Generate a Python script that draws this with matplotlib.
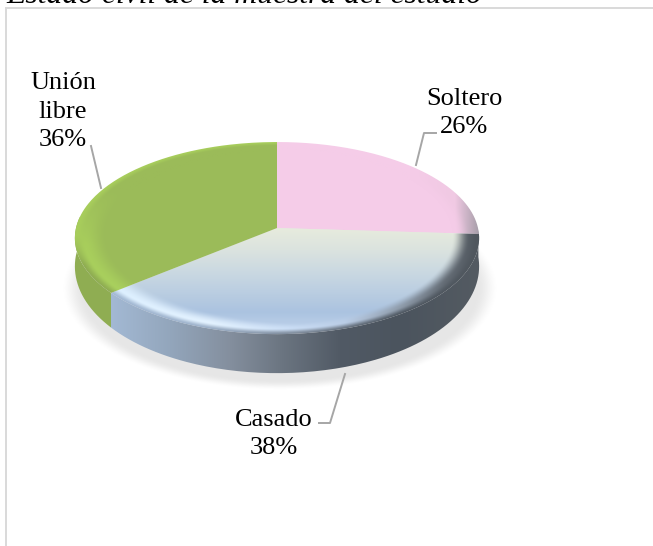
import numpy as np
import matplotlib
matplotlib.use('Agg')
import matplotlib.pyplot as plt
from matplotlib.colors import to_rgb
from matplotlib.patches import PathPatch
from matplotlib.path import Path

categories = ['Soltero', 'Casado', 'Unión\nlibre']
values = [26, 38, 36]
title = 'Estado civil de la muestra del estudio'

# pie geometry in pixels, perspective tilt k
cx, cy = 277., 228.
R, H, k = 201., 95., 0.105

fig = plt.figure(figsize=(6.53, 5.46), dpi=100)
ax = fig.add_axes([0, 0, 1, 1])
ax.set_xlim(0, 653)
ax.set_ylim(546, 0)
ax.axis('off')

X, Y = np.meshgrid(np.arange(653) + 0.5, np.arange(546) + 0.5)
b = (cy - Y) / H
V = b / (1 - k * b)
U = (X - cx) * (1 + k * V) / R
Rad = np.hypot(U, V)


def project(theta):
    # theta is clockwise from the top of the disc
    u, v = np.sin(theta), np.cos(theta)
    w = 1 + k * v
    return cx + R * u / w, cy - H * v / w


def ramp(pos, colors, at):
    rgb = np.array([to_rgb(c) for c in colors])
    return np.stack([np.interp(at, pos, rgb[:, i]) for i in range(3)], axis=-1)


def smooth(a, b_, x):
    t = np.clip((x - a) / (b_ - a), 0, 1)
    return t * t * (3 - 2 * t)


def mix(c1, c2, t):
    return c1 * (1 - t[..., None]) + c2 * t[..., None]


def draw_clipped(rgb, path, z):
    im = ax.imshow(rgb, extent=(0, 653, 546, 0), zorder=z, aspect='auto',
                   interpolation='bilinear')
    patch = PathPatch(path, transform=ax.transData, fc='none', ec='none')
    ax.add_patch(patch)
    im.set_clip_path(patch)


# soft shadow on the ground
d = np.hypot((X - 280) / 207, (Y - 288) / 97)
shadow = np.zeros(X.shape + (4,))
shadow[..., 3] = 0.10 * (1 - smooth(0.95, 1.06, d))
ax.imshow(shadow, extent=(0, 653, 546, 0), zorder=1, aspect='auto')

# slice angles
edges = np.cumsum([0] + values) / sum(values) * 2 * np.pi

# outer wall
wall_x = project(edges[2])[0]
wall_rgb = ramp([wall_x - 0.1, wall_x + 0.1, 170, 230, 280, 340, 400, 480],
                ['#8FAD52', '#A3B9D4', '#93A6BC', '#848F9E', '#6C7682', '#515A65', '#4B545E', '#545B62'],
                X)
wall_rgb[X < wall_x - 0.1] = to_rgb('#8FAD52')
th = np.linspace(np.pi / 2 + 0.02, 3 * np.pi / 2 + 0.12, 200)
xs, ys = project(th)
depth = 27 + 12 * np.clip(-np.cos(th), 0, 1)
wall_pts = np.r_[np.c_[xs, ys], np.c_[xs, ys + depth][::-1]]
draw_clipped(wall_rgb, Path(np.r_[wall_pts, wall_pts[:1]]), 2)

# top faces with a rounded rim that runs into the wall colour
rim_start = np.interp(X, [110, 230, 300, 480], [0.84, 0.87, 0.91, 0.86])
rim_light = smooth(rim_start, 0.955, Rad)
rim_out = smooth(0.95, 1.0, Rad)

pink = ramp([0, 1], ['#F5CCE8', '#F5CCE8'], Y)
pink_rim = ramp([410, 455, 480], ['#F5CCE8', '#F0C9E3', '#A39CA6'], X)
pink_top = mix(pink, pink_rim, rim_light)

blue = ramp([228, 250, 275, 312, 335], ['#E7EBDD', '#DBE3DF', '#C8D7E2', '#ABC3E0', '#C4D6EE'], Y)
blue_rim = ramp([110, 210, 290, 345, 400, 445, 480],
                ['#DCEFFF', '#E3F2FF', '#CADDF5', '#BACDE6', '#8F9CAB', '#646C75', '#50575E'], X)
blue_edge = ramp([110, 200, 300, 400, 480],
                 ['#A3B9D4', '#9DB1CA', '#7B8796', '#4F5862', '#50575E'], X)
blue_top = mix(mix(blue, blue_rim, rim_light), blue_edge, rim_out)

green = ramp([0, 1], ['#9BBB59', '#9BBB59'], Y)
green_rim = ramp([190, 245, 300], ['#9BBB59', '#A8CE5C', '#A9D05E'], Y)
green_top = mix(green, green_rim, rim_light)
green_top = mix(green_top, ramp([235, 265], ['#A8CE5C', '#8FAD52'], Y), rim_out)

faces = [pink_top, blue_top, green_top]
for i, rgb in enumerate(faces):
    th = np.linspace(edges[i], edges[i + 1], 150)
    xs, ys = project(th)
    pts = np.r_[[[cx, cy]], np.c_[xs, ys], [[cx, cy]]]
    draw_clipped(rgb, Path(pts), 3)

# frame of the chart area
ax.plot([6, 6], [546, 8], color='#D9D9D9', lw=1.4, zorder=4, solid_capstyle='butt')
ax.plot([5, 653], [8, 8], color='#D9D9D9', lw=1.4, zorder=4, solid_capstyle='butt')

# leader lines
leader = '#A6A6A6'
ax.plot([91, 101], [146, 188], color=leader, lw=1.4, zorder=4)
ax.plot([436, 424, 416], [133, 133, 165], color=leader, lw=1.4, zorder=4)
ax.plot([345, 330, 319], [374, 423, 423], color=leader, lw=1.4, zorder=4)

font = {'family': 'Liberation Serif', 'size': 19, 'color': 'black',
        'ha': 'center', 'va': 'baseline', 'linespacing': 1.37, 'zorder': 5}
label_xy = [(464, 133), (274, 454), (63, 146)]
for cat, val, (lx, ly) in zip(categories, values, label_xy):
    ax.text(lx, ly, f'{cat}\n{val}%', **font)

ax.text(6, 3, title, family='Liberation Serif', style='italic', size=22.8,
        ha='left', va='baseline', zorder=5)

fig.savefig('out.png', dpi=100)
